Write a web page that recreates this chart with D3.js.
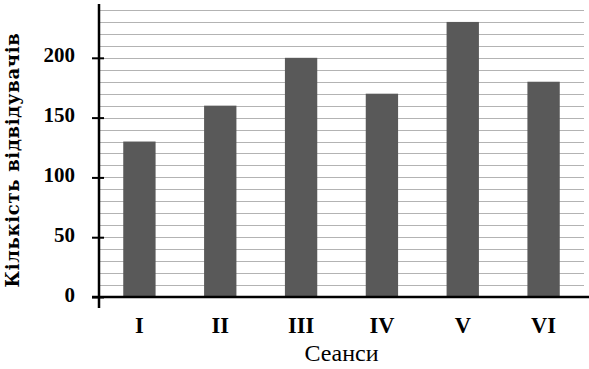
<!DOCTYPE html>
<html>
<head>
<meta charset="utf-8">
<script src="https://cdn.jsdelivr.net/npm/d3@7"></script>
<style>
  body { margin: 0; background: #fff; }
  text { font-family: "Liberation Serif", "Times New Roman", serif; fill: #000; }
</style>
</head>
<body>
<svg id="chart" width="589" height="369"></svg>
<script>
// chart data
const sessions = ["I", "II", "III", "IV", "V", "VI"];
const visitors = [130, 160, 200, 170, 230, 180];
const yTicks = [0, 50, 100, 150, 200];
const gridValues = d3.range(10, 250, 10);

const svg = d3.select("#chart");
const margin = { top: 4, right: 5, bottom: 72, left: 99 };
const width = 589, height = 369;

const x = d3.scaleBand()
  .domain(sessions)
  .range([margin.left, width - margin.right])
  .paddingInner(0.6)
  .paddingOuter(0.3);

const y = d3.scaleLinear()
  .domain([0, 245])
  .range([height - margin.bottom, margin.top]);

// gridlines every 10
svg.append("g")
  .selectAll("line")
  .data(gridValues)
  .join("line")
  .attr("x1", margin.left)
  .attr("x2", width - margin.right)
  .attr("y1", (d) => Math.round(y(d)) + 0.5)
  .attr("y2", (d) => Math.round(y(d)) + 0.5)
  .style("stroke", "#b3b3b3")
  .style("stroke-width", 1.2);

// bars
svg.append("g")
  .selectAll("rect")
  .data(sessions.map((s, i) => ({ s, v: visitors[i] })))
  .join("rect")
  .attr("x", (d) => x(d.s))
  .attr("width", x.bandwidth())
  .attr("y", (d) => y(d.v))
  .attr("height", (d) => y(0) - y(d.v))
  .style("fill", "#595959");

// y axis
const yAxis = svg.append("g")
  .attr("transform", `translate(${margin.left},0)`)
  .call(d3.axisLeft(y).tickValues(yTicks).tickSize(0).tickPadding(24));
yAxis.select(".domain").remove();
yAxis.selectAll("text")
  .style("font-size", "21px")
  .style("font-weight", "bold")
  .attr("dy", "0.19em");
yAxis.selectAll(".tick")
  .append("line")
  .attr("x1", -7)
  .attr("x2", 5)
  .style("stroke", "#000")
  .style("stroke-width", 2);
yAxis.append("line")
  .attr("y1", y(245))
  .attr("y2", y(0) + 11)
  .style("stroke", "#000")
  .style("stroke-width", 2.5);

// x axis
const xAxis = svg.append("g")
  .attr("transform", `translate(0,${y(0)})`)
  .call(d3.axisBottom(x).tickSize(0).tickPadding(20));
xAxis.select(".domain").remove();
xAxis.selectAll("text")
  .style("font-size", "22.5px")
  .style("font-weight", "bold");
xAxis.append("line")
  .attr("x1", margin.left - 7)
  .attr("x2", width)
  .style("stroke", "#000")
  .style("stroke-width", 2.5);

// axis titles
svg.append("text")
  .attr("x", (margin.left + width - margin.right) / 2)
  .attr("y", 361)
  .attr("text-anchor", "middle")
  .style("font-size", "24px")
  .text("Сеанси");

svg.append("text")
  .attr("transform", "translate(19,160) rotate(-90)")
  .attr("text-anchor", "middle")
  .style("font-family", "'DejaVu Serif', serif")
  .style("font-size", "18px")
  .style("font-weight", "bold")
  .style("letter-spacing", "0.7px")
  .text("Кількість  відвідувачів");
</script>
</body>
</html>
